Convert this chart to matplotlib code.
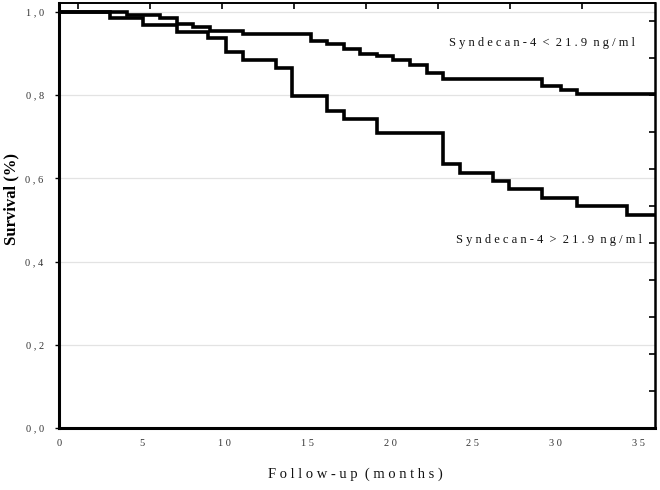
import numpy as np
import matplotlib
matplotlib.use("Agg")
import matplotlib.pyplot as plt

# ---- data ----
low_t = [0, 4.1, 6.1, 7.1, 8.1, 9.1, 11.1, 15.2, 16.2, 17.2, 18.2, 19.2, 20.2,
         21.2, 22.2, 23.2, 29.2, 30.3, 31.3, 36]
low_s = [1.0, 0.993, 0.986, 0.970, 0.963, 0.955, 0.947, 0.931, 0.923, 0.910, 0.900,
         0.893, 0.885, 0.873, 0.854, 0.838, 0.822, 0.8125, 0.804, 0.804]

high_t = [0, 3.1, 5.1, 7.1, 9.0, 10.1, 11.1, 13.1, 14.1, 16.2, 17.2, 19.2, 23.2,
          24.2, 26.2, 27.2, 29.2, 31.3, 34.3, 36]
high_s = [1.0, 0.985, 0.969, 0.952, 0.937, 0.904, 0.885, 0.866, 0.797, 0.762, 0.743,
          0.708, 0.634, 0.614, 0.593, 0.574, 0.554, 0.533, 0.511, 0.511]

label_low = "S y n d e c a n - 4  <  2 1 . 9  n g / m l"
label_high = "S y n d e c a n - 4  >  2 1 . 9  n g / m l"

xticks = [0, 5, 10, 15, 20, 25, 30, 35]
xticklabels = ["0", "5", "1 0", "1 5", "2 0", "2 5", "3 0", "3 5"]
yticks = [0.0, 0.2, 0.4, 0.6, 0.8, 1.0]
yticklabels = ["0 , 0", "0 , 2", "0 , 4", "0 , 6", "0 , 8", "1 , 0"]

xlabel = "F o l l o w - u p  ( m o n t h s )"
ylabel = "Survival (%)"

# ---- figure ----
serif = ["Liberation Serif", "DejaVu Serif"]

fig = plt.figure(figsize=(6.6, 4.9), dpi=100)
ax = fig.add_axes([0.0894, 0.1265, 0.9030, 0.8664])
ax.set_xlim(0, 36)
ax.set_ylim(0, 1.0204)

for yv in [0.2, 0.4, 0.6, 0.8, 1.0]:
    ax.axhline(yv, color="#e3e3e3", lw=0.9, zorder=0)

ax.step(low_t, low_s, where="post", color="black", lw=2.6, zorder=3,
        solid_joinstyle="miter")
ax.step(high_t, high_s, where="post", color="black", lw=2.6, zorder=3,
        solid_joinstyle="miter")

ax.text(29.2, 0.925, label_low, ha="center", va="center", fontsize=9,
        family=serif, color="#111111")
ax.text(29.6, 0.452, label_high, ha="center", va="center", fontsize=9,
        family=serif, color="#111111")

ax.set_xticks(xticks)
ax.set_xticklabels(xticklabels, family=serif, fontsize=7.5, color="#333333")
ax.set_yticks(yticks)
ax.set_yticklabels(yticklabels, family=serif, fontsize=7.5, color="#333333")
ax.tick_params(axis="x", length=0, pad=8)
ax.tick_params(axis="y", length=3, width=1, direction="out", pad=8)

ax.set_xlabel(xlabel, family=serif, fontsize=10.5, color="#111111")
ax.xaxis.set_label_coords(0.497, -0.094)
ax.set_ylabel(ylabel, family=serif, fontsize=12, fontweight="bold")
ax.yaxis.set_label_coords(-0.066, 0.54)

for side, w in [("left", 2.2), ("bottom", 2.2), ("right", 1.8), ("top", 1.4)]:
    ax.spines[side].set_linewidth(w)

# inward ticks along the top and right edges
axt = ax.twiny()
axt.set_xlim(ax.get_xlim())
axt.set_xticks(np.arange(1.14, 34, 4.35))
axt.tick_params(axis="x", direction="in", length=4, width=1.2, labeltop=False)
axr = ax.twinx()
axr.set_ylim(ax.get_ylim())
axr.set_yticks(np.arange(1, 12) * 0.8 / 9)
axr.tick_params(axis="y", direction="in", length=4, width=1.2, labelright=False)
for a in (axt, axr):
    for s in a.spines.values():
        s.set_visible(False)

fig.savefig("out.png", dpi=100)
